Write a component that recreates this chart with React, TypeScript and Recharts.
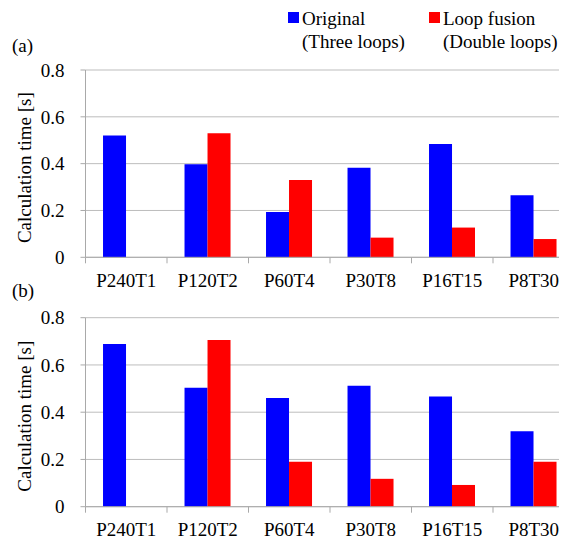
import React from 'react';
import { BarChart, Bar, XAxis, YAxis, CartesianGrid } from 'recharts';

const categories = ['P240T1', 'P120T2', 'P60T4', 'P30T8', 'P16T15', 'P8T30'];
const originalA = [0.52, 0.397, 0.194, 0.383, 0.484, 0.265];
const fusionA = [null, 0.53, 0.33, 0.084, 0.127, 0.078];
const originalB = [0.689, 0.504, 0.46, 0.512, 0.466, 0.319];
const fusionB = [null, 0.706, 0.19, 0.118, 0.092, 0.19];
const yTicks = [0, 0.2, 0.4, 0.6, 0.8];
const seriesNames = ['Original', 'Loop fusion'];
const seriesSub = ['(Three loops)', '(Double loops)'];
const panelLabels = ['(a)', '(b)'];
const yLabel = 'Calculation time [s]';

const BLUE = '#0000ff';
const RED = '#ff0000';
const GRID = '#bdbdbd';
const AXIS = '#a9a9a9';
const FONT = '"Liberation Serif", "Times New Roman", serif';
const FS = 19;

const dataA = categories.map((c, i) => ({ name: c, original: originalA[i], fusion: fusionA[i] }));
const dataB = categories.map((c, i) => ({ name: c, original: originalB[i], fusion: fusionB[i] }));

const TICK_SIZE = 6;
const TICK_MARGIN = 10;

const XTick = (props: any) => {
  const { x, y, payload } = props;
  const half = payload && payload.offset ? payload.offset : 40.75;
  const axisY = y - TICK_SIZE - TICK_MARGIN;
  return (
    <g>
      <line x1={x - half} x2={x - half} y1={axisY} y2={axisY + TICK_SIZE} stroke={AXIS} strokeWidth={1} />
      <text x={x} y={y} dy="0.71em" textAnchor="middle" fill="#000" fontSize={FS} fontFamily={FONT}>
        {payload.value}
      </text>
    </g>
  );
};

const YLabel = (props: any) => {
  const vb = props.viewBox || { x: 0, y: 0, width: 0, height: 0 };
  const cx = 17;
  const cy = vb.y + vb.height / 2 + 4;
  return (
    <text
      x={cx}
      y={cy}
      transform={`rotate(-90 ${cx} ${cy})`}
      textAnchor="middle"
      dominantBaseline="central"
      fill="#000"
      fontSize={FS}
      fontFamily={FONT}
    >
      {yLabel}
    </text>
  );
};

const fmt = (v: number) => (v === 0 ? '0' : v.toFixed(1));

const Panel = ({ data, width, height, margin }: any) => (
  <BarChart width={width} height={height} data={data} margin={margin} barCategoryGap="21.5%" barGap={0}>
    <CartesianGrid vertical={false} stroke={GRID} strokeWidth={1} />
    <XAxis
      dataKey="name"
      height={30}
      stroke={AXIS}
      tickLine={false}
      tickSize={TICK_SIZE}
      tickMargin={TICK_MARGIN}
      tick={<XTick />}
      interval={0}
    />
    <YAxis
      width={77.5}
      domain={[0, 0.8]}
      ticks={yTicks}
      tickFormatter={fmt}
      stroke={AXIS}
      tickSize={5}
      tickMargin={16}
      tick={{ fill: '#000', fontSize: FS, fontFamily: FONT }}
      label={{ content: <YLabel /> }}
    />
    <Bar dataKey="original" fill={BLUE} isAnimationActive={false} />
    <Bar dataKey="fusion" fill={RED} isAnimationActive={false} />
  </BarChart>
);

const textStyle: React.CSSProperties = {
  position: 'absolute',
  fontFamily: FONT,
  fontSize: FS,
  color: '#000',
  lineHeight: '22px',
  whiteSpace: 'nowrap',
};

export default function App() {
  return (
    <div style={{ position: 'relative', width: 559, height: 531, overflow: 'hidden', background: '#fff' }}>
      <div style={{ position: 'absolute', left: 0, top: 0 }}>
        <Panel data={dataA} width={567} height={290} margin={{ top: 62, right: 0.5, left: 0, bottom: 10.7 }} />
      </div>
      <div style={{ position: 'absolute', left: 0, top: 270 }}>
        <Panel data={dataB} width={567} height={270} margin={{ top: 39.7, right: 0.5, left: 0, bottom: 11.3 }} />
      </div>
      <div style={{ ...textStyle, left: 4, top: 27 }}>{panelLabels[0]}</div>
      <div style={{ ...textStyle, left: 4, top: 272 }}>{panelLabels[1]}</div>
      <div style={{ position: 'absolute', left: 280, top: 4, width: 11, height: 11, background: BLUE }} />
      <div style={{ ...textStyle, left: 294, top: 0 }}>{seriesNames[0]}</div>
      <div style={{ ...textStyle, left: 294, top: 23 }}>{seriesSub[0]}</div>
      <div style={{ position: 'absolute', left: 421, top: 4, width: 11, height: 11, background: RED }} />
      <div style={{ ...textStyle, left: 435, top: 0 }}>{seriesNames[1]}</div>
      <div style={{ ...textStyle, left: 435, top: 23 }}>{seriesSub[1]}</div>
    </div>
  );
}
